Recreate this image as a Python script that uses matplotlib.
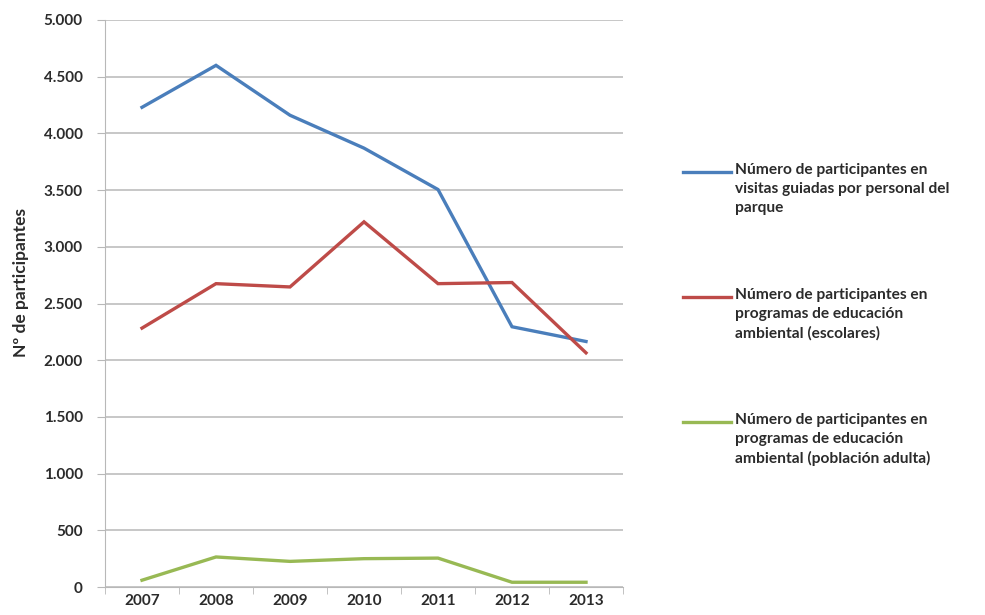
import matplotlib

matplotlib.use("Agg")
import matplotlib.pyplot as plt
from matplotlib.lines import Line2D
from matplotlib.ticker import FixedLocator, NullFormatter

plt.rcParams["font.family"] = ["Lato", "DejaVu Sans"]

years = ["2007", "2008", "2009", "2010", "2011", "2012", "2013"]
visitas_guiadas = [4230, 4600, 4160, 3870, 3505, 2295, 2165]
escolares = [2283, 2675, 2646, 3220, 2675, 2685, 2065]
poblacion_adulta = [60, 265, 226, 250, 255, 42, 42]

y_ticks = [0, 500, 1000, 1500, 2000, 2500, 3000, 3500, 4000, 4500, 5000]
y_tick_labels = ["0", "500", "1.000", "1.500", "2.000", "2.500", "3.000",
                 "3.500", "4.000", "4.500", "5.000"]

series = [
    (visitas_guiadas, "#4A7EBB",
     "Número de participantes en\nvisitas guiadas por personal del\nparque"),
    (escolares, "#BE4B48",
     "Número de participantes en\nprogramas de educación\nambiental (escolares)"),
    (poblacion_adulta, "#98B954",
     "Número de participantes en\nprogramas de educación\nambiental (población adulta)"),
]

TEXT = "#2b2b2b"
GRID = "#b8b8b8"

fig = plt.figure(figsize=(9.85, 6.15), dpi=100)
ax = fig.add_axes([0.1066, 0.0455, 0.5259, 0.922])

x = list(range(len(years)))
for values, color, _ in series:
    ax.plot(x, values, color=color, linewidth=2.4, solid_joinstyle="miter")

ax.set_xlim(-0.5, len(years) - 0.5)
ax.set_ylim(0, 5000)
ax.set_yticks(y_ticks)
ax.set_yticklabels(y_tick_labels)
ax.set_xticks(x)
ax.set_xticklabels(years)
ax.xaxis.set_minor_locator(FixedLocator([i - 0.5 for i in range(len(years) + 1)]))
ax.xaxis.set_minor_formatter(NullFormatter())
ax.tick_params(axis="x", which="major", length=0, pad=5)
ax.tick_params(axis="x", which="minor", length=5, color=GRID, direction="out")
ax.tick_params(axis="y", length=6, color=GRID, pad=10)
ax.tick_params(labelsize=11, labelcolor=TEXT)
for lab in ax.get_xticklabels() + ax.get_yticklabels():
    lab.set_fontweight("bold")

ax.grid(axis="y", color=GRID, linewidth=1.1)
ax.set_axisbelow(True)
for side in ["top", "right"]:
    ax.spines[side].set_visible(False)
ax.spines["left"].set_color(GRID)
ax.spines["bottom"].set_color(GRID)

fig.text(0.021, 0.54, "Nº de participantes", rotation=90, ha="center",
         va="center", fontsize=12.5, fontweight="bold", color=TEXT)

# legend on the right, handle aligned with the first text line
for i, (_, color, label) in enumerate(series):
    y_px = 172 + 125 * i
    y_fig = 1 - y_px / 615
    fig.add_artist(Line2D([683 / 985, 731 / 985], [y_fig, y_fig],
                          color=color, linewidth=2.4))
    fig.text(735 / 985, y_fig + 9 / 615, label, ha="left", va="top",
             fontsize=11.2, fontweight="bold", color=TEXT, linespacing=1.45)

fig.savefig("out.png", dpi=100, facecolor="white")
